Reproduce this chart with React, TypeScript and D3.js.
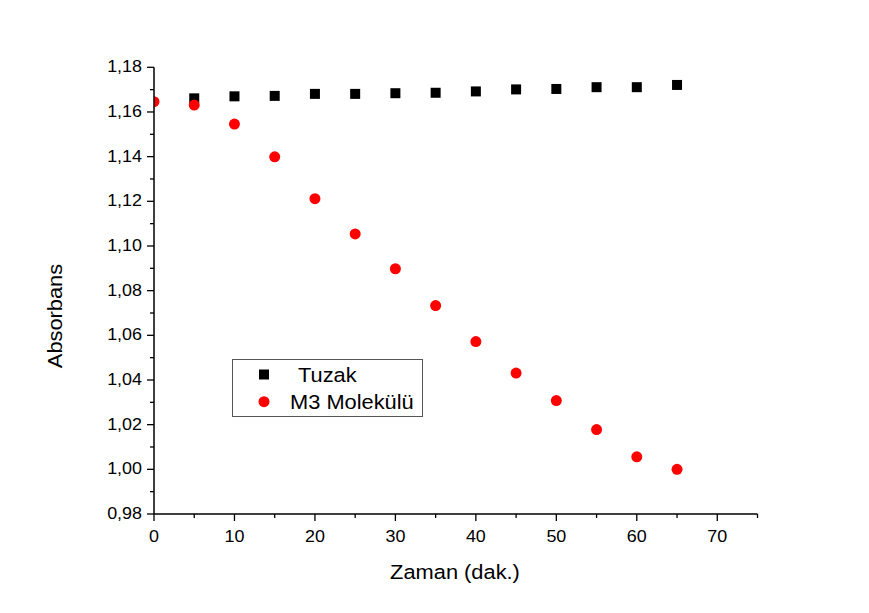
import React from "react";
import * as d3 from "d3";

const tuzakTimes = [5, 10, 15, 20, 25, 30, 35, 40, 45, 50, 55, 60, 65];
const tuzak = [1.1661, 1.167, 1.1672, 1.1681, 1.1681, 1.1684, 1.1686, 1.1692, 1.1701, 1.1703, 1.1711, 1.1711, 1.1721];
const m3Times = [0, 5, 10, 15, 20, 25, 30, 35, 40, 45, 50, 55, 60, 65];
const m3 = [1.1646, 1.1631, 1.1546, 1.1399, 1.1212, 1.1054, 1.0898, 1.0733, 1.0572, 1.0431, 1.0308, 1.0178, 1.0056, 1.0];
const xTicks = [0, 10, 20, 30, 40, 50, 60, 70];
const yTicks = [0.98, 1.0, 1.02, 1.04, 1.06, 1.08, 1.1, 1.12, 1.14, 1.16, 1.18];
const seriesNames = ["Tuzak", "M3 Molekülü"];

const W = 869;
const H = 613;
const font = "'Liberation Sans', Arial, sans-serif";
const SX = 1.12;

function T(props: { x: number; y: number; size: number; anchor?: string; rotate?: number; children: React.ReactNode }) {
  const { x, y, size, anchor = "start", rotate = 0, children } = props;
  return (
    <text
      transform={`translate(${x},${y}) rotate(${rotate}) scale(${SX},1)`}
      textAnchor={anchor}
      fontFamily={font}
      fontSize={size}
      fill="#000"
    >
      {children}
    </text>
  );
}

export default function App() {
  const x = d3.scaleLinear().domain([0, 75]).range([154, 757.5]);
  const y = d3.scaleLinear().domain([0.98, 1.18]).range([514, 67.3]);
  const fmt = (v: number) => d3.format(".2f")(v).replace(".", ",");
  const xMinor = d3.range(0, 76, 5);
  const yMinor = d3.range(0, 21).map((i) => 0.98 + i * 0.01);
  const fmtX = d3.format("d");

  return (
    <svg width={W} height={H} style={{ display: "block", position: "absolute", left: 0, top: 0, background: "#fff" }}>
      <defs>
        <clipPath id="plot">
          <rect x={x(0)} y={0} width={x(75) - x(0)} height={y(0.98)} />
        </clipPath>
      </defs>
      <rect x={0} y={0} width={W} height={H} fill="#fff" />
      {/* data */}
      <g clipPath="url(#plot)">
        {tuzakTimes.map((t, i) => (
          <rect key={"s" + i} x={x(t) - 5} y={y(tuzak[i]) - 5} width={10} height={10} fill="#000" />
        ))}
        {m3Times.map((t, i) => (
          <circle key={"c" + i} cx={x(t)} cy={y(m3[i])} r={5.5} fill="#ff0000" />
        ))}
      </g>
      {/* x axis */}
      <line x1={x(0)} x2={x(75)} y1={y(0.98)} y2={y(0.98)} stroke="#000" strokeWidth={1.5} />
      {xMinor.map((v) => (
        <line key={"xm" + v} x1={x(v)} x2={x(v)} y1={y(0.98)} y2={y(0.98) + (v % 10 === 0 ? 7 : 4)} stroke="#000" strokeWidth={1.3} />
      ))}
      {xTicks.map((v) => (
        <T key={"xt" + v} x={x(v)} y={542} size={16} anchor="middle">
          {fmtX(v)}
        </T>
      ))}
      {/* y axis */}
      <line x1={x(0)} x2={x(0)} y1={y(0.98)} y2={y(1.18)} stroke="#000" strokeWidth={1.5} />
      {yMinor.map((v, i) => (
        <line key={"ym" + i} x1={x(0)} x2={x(0) - (i % 2 === 0 ? 7 : 4)} y1={y(v)} y2={y(v)} stroke="#000" strokeWidth={1.3} />
      ))}
      {yTicks.map((v) => (
        <T key={"yt" + v} x={142} y={y(v) + 5} size={16} anchor="end">
          {fmt(v)}
        </T>
      ))}
      {/* axis titles */}
      <T x={455} y={579} size={19.5} anchor="middle">
        Zaman (dak.)
      </T>
      <T x={62} y={316} size={19.5} anchor="middle" rotate={-90}>
        Absorbans
      </T>
      {/* legend */}
      <rect x={232.5} y={359.5} width={190} height={57} fill="#fff" stroke="#555" strokeWidth={1} />
      <rect x={259} y={369.5} width={10} height={10} fill="#000" />
      <T x={298} y={382} size={19.5}>
        {seriesNames[0]}
      </T>
      <circle cx={264} cy={401.7} r={5.5} fill="#ff0000" />
      <T x={290} y={409} size={19.5}>
        {seriesNames[1]}
      </T>
    </svg>
  );
}
